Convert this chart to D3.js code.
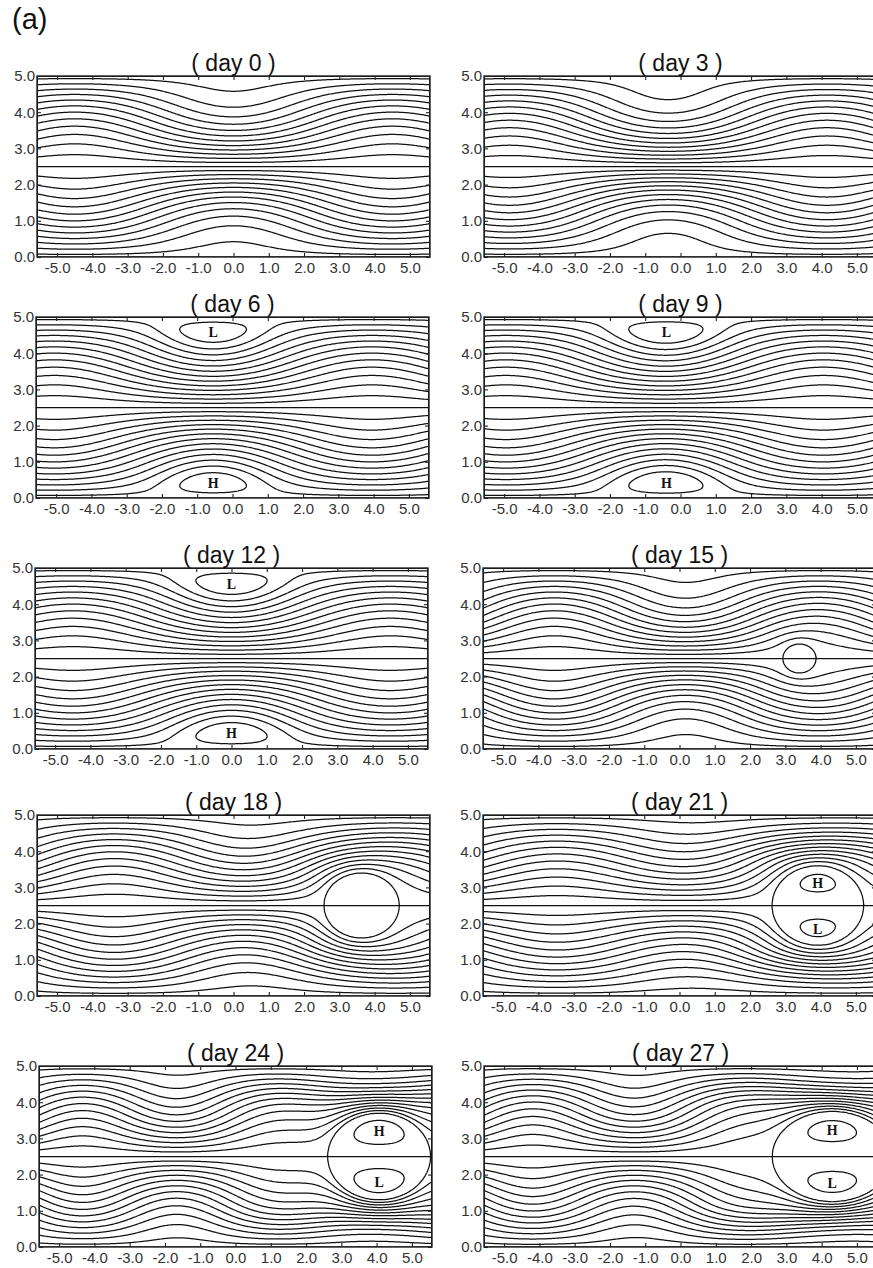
<!DOCTYPE html>
<html>
<head>
<meta charset="utf-8">
<script src="https://cdn.jsdelivr.net/npm/d3@7"></script>
<style>
  body { margin: 0; background: #fff; }
  svg { display: block; }
</style>
</head>
<body>
<svg id="fig" width="873" height="1268"></svg>
<script>
// ---- streamfunction snapshots, one per model day ----
const days = [0, 3, 6, 9, 12, 15, 18, 21, 24, 27];

// standing wave in the channel: trough position, amplitude, mean shear, wavelength
const waveX0   = [0.0, -0.35, -0.55, -0.45, 0.0, 0.2, 0.6, 0.5, -1.6, -1.2];
const waveAmp  = [0.60, 0.65, 0.55, 0.55, 0.55, 0.60, 0.55, 0.45, 0.50, 0.55];
const waveBase = [0.20, 0.30, 0.15, 0.15, 0.15, 0.20, 0.20, 0.20, 0.20, 0.20];
const waveLen  = [9, 9, 9, 9, 9, 7.5, 8, 8, 5.5, 6];

// cut-off lows / highs trapped at the channel walls
const wallX     = [0, 0, -0.55, -0.4, 0.0, 0, 0, 0, 0, 0];
const wallAmp   = [0, 0, 0.42, 0.45, 0.44, 0, 0, 0, 0, 0];
const wallWidth = [1, 1, 1.5, 1.6, 1.6, 1, 1, 1, 1, 1];
const wallDepth = [0.5, 0.5, 0.50, 0.50, 0.52, 0.5, 0.5, 0.5, 0.5, 0.5];

// modon (dipole) on the channel axis: centre, half-axes, interior strength
const modonX  = [null, null, null, null, null, 3.4, 3.63, 3.92, 4.07, 4.3];
const modonRx = [0, 0, 0, 0, 0, 0.47, 1.07, 1.30, 1.46, 1.70];
const modonRy = [0, 0, 0, 0, 0, 0.40, 0.90, 1.10, 1.20, 1.25];
const modonK  = [0, 0, 0, 0, 0, 0.30, 0.45, 0.66, 0.78, 0.68];

// contour interval and axes
const levels = d3.range(-14, 15).map(k => +(k * 0.2).toFixed(1));
const xTicks = [-5, -4, -3, -2, -1, 0, 1, 2, 3, 4, 5];
const yTicks = [0, 1, 2, 3, 4, 5];
const xDomain = [-5.57, 5.57];
const yDomain = [0, 5];

// ---- layout ----
const W = 393, H = 181;
const colLeft = [[37, 484], [36, 484], [35, 483], [37, 483], [39, 484]];
const rowTop = [76, 317, 568, 815, 1066];

const svg = d3.select("#fig");
svg.append("text")
  .attr("x", 12).attr("y", 29)
  .attr("font-family", "Liberation Sans, Arial, sans-serif")
  .attr("font-size", 29).attr("fill", "#111")
  .text("(a)");

function streamfunction(i, x, y) {
  const s = y - 2.5;
  const E = waveBase[i] + waveAmp[i] * Math.cos(2 * Math.PI * (x - waveX0[i]) / waveLen[i]);
  let wave = E * (2.5 / Math.PI) * Math.sin(Math.PI * s / 2.5);
  if (wallAmp[i]) {
    const gx = Math.exp(-Math.pow((x - wallX[i]) / wallWidth[i], 2));
    const d = wallDepth[i];
    // vanishes quadratically at the wall, peaks at depth d
    const phi = u => u <= 0 ? 0 : Math.pow(u / d, 2) * Math.exp(2 * (1 - u / d));
    wave += wallAmp[i] * gx * (phi(2.5 - s) - phi(2.5 + s));
  }
  if (modonX[i] == null) return s + wave;
  const X = (x - modonX[i]) / modonRx[i], S = s / modonRy[i];
  const r2 = X * X + S * S;
  if (r2 < 1) return -modonK[i] * S * (1 - r2);
  const a = Math.abs(s);
  let Wt = 1;
  if (a > modonRy[i]) {
    const t = (a - modonRy[i]) / (2.5 - modonRy[i]);
    Wt = Math.pow(Math.cos(Math.PI / 2 * t), 2);
  }
  return s - s * Wt / r2 + wave * (1 - 1 / r2);
}

const nx = 330, ny = 150;
const fmt = d => d.toFixed(1);
const font = "Liberation Sans, Arial, sans-serif";

days.forEach((day, i) => {
  const row = Math.floor(i / 2), col = i % 2;
  const left = colLeft[row][col], top = rowTop[row];
  const x = d3.scaleLinear().domain(xDomain).range([0, W]);
  const y = d3.scaleLinear().domain(yDomain).range([H, 0]);

  const g = svg.append("g").attr("transform", `translate(${left},${top})`);
  const clipId = "clip" + i;
  g.append("clipPath").attr("id", clipId)
    .append("rect").attr("width", W).attr("height", H);

  // sample the field on a grid (cell centres) and contour it
  const values = new Float64Array(nx * ny);
  for (let j = 0; j < ny; j++) {
    const yy = yDomain[1] - (j + 0.5) * (yDomain[1] - yDomain[0]) / ny;
    for (let k = 0; k < nx; k++) {
      const xx = xDomain[0] + (k + 0.5) * (xDomain[1] - xDomain[0]) / nx;
      values[j * nx + k] = streamfunction(i, xx, yy);
    }
  }
  const contours = d3.contours().size([nx, ny]).thresholds(levels)(values);
  const proj = d3.geoTransform({
    point(px, py) { this.stream.point(px * W / nx, py * H / ny); }
  });
  const path = d3.geoPath(proj);

  g.append("g").attr("clip-path", `url(#${clipId})`)
    .selectAll("path").data(contours).join("path")
    .attr("d", path)
    .attr("fill", "none")
    .attr("stroke", "#111")
    .attr("stroke-width", 1.25)
    .attr("stroke-linejoin", "round");

  // H / L labels
  const marks = [];
  if (wallAmp[i]) {
    marks.push({ t: "L", x: wallX[i], y: 5 - wallDepth[i] * 0.85 });
    marks.push({ t: "H", x: wallX[i], y: wallDepth[i] * 0.85 });
  }
  if (modonX[i] != null && modonK[i] * 0.385 > 0.2) {
    marks.push({ t: "H", x: modonX[i], y: 2.5 + modonRy[i] / Math.sqrt(3) });
    marks.push({ t: "L", x: modonX[i], y: 2.5 - modonRy[i] / Math.sqrt(3) });
  }
  g.selectAll("text.hl").data(marks).join("text")
    .attr("class", "hl")
    .attr("x", d => x(d.x)).attr("y", d => y(d.y))
    .attr("dy", "0.36em")
    .attr("text-anchor", "middle")
    .attr("font-family", "Liberation Serif, Times New Roman, serif")
    .attr("font-weight", "bold")
    .attr("font-size", 14)
    .attr("fill", "#111")
    .text(d => d.t);

  // frame
  g.append("rect").attr("width", W).attr("height", H)
    .attr("fill", "none").attr("stroke", "#222").attr("stroke-width", 1.4);

  // axes
  const axB = g.append("g").attr("transform", `translate(0,${H})`)
    .call(d3.axisBottom(x).tickValues(xTicks).tickFormat(fmt).tickSizeInner(-4).tickSizeOuter(0).tickPadding(5.5));
  const axT = g.append("g")
    .call(d3.axisTop(x).tickValues(xTicks).tickFormat("").tickSizeInner(-4).tickSizeOuter(0));
  const axL = g.append("g")
    .call(d3.axisLeft(y).tickValues(yTicks).tickFormat(fmt).tickSizeInner(-4).tickSizeOuter(0).tickPadding(2));
  const axR = g.append("g").attr("transform", `translate(${W},0)`)
    .call(d3.axisRight(y).tickValues(yTicks).tickFormat("").tickSizeInner(-4).tickSizeOuter(0));
  [axB, axT, axL, axR].forEach(a => {
    a.select(".domain").remove();
    a.selectAll("line").attr("stroke", "#222").attr("stroke-width", 1.1);
    a.selectAll("text").attr("font-family", font).attr("font-size", 15).attr("fill", "#333");
  });

  // title
  g.append("text")
    .attr("x", x(0)).attr("y", -5)
    .attr("text-anchor", "middle")
    .attr("font-family", font).attr("font-size", 23).attr("fill", "#111")
    .text(`( day ${day} )`);
});
</script>
</body>
</html>
